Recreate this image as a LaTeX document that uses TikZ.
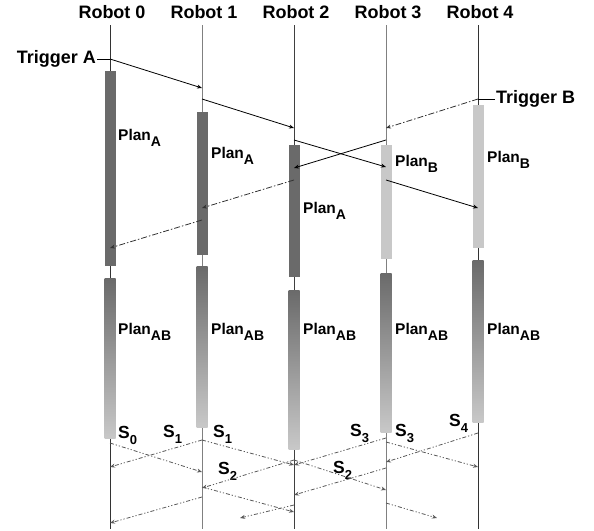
\documentclass[tikz,border=0pt]{standalone}
\usepackage{fontspec}
\setmainfont{Liberation Sans}
\usetikzlibrary{arrows.meta}

\definecolor{darkbar}{HTML}{6A6A6A}
\definecolor{lightbar}{HTML}{C8C8C8}
\newcommand\lsub[2]{\raisebox{-6pt}{\fontsize{#1}{#1}\selectfont #2}}

\begin{document}
\begin{tikzpicture}[x=1pt,y=-1pt,
    lifeline/.style={line width=0.8pt},
    solidmsg/.style={draw,thick,black},
    bmsg/.style={draw,thick,black!80,dash pattern=on 6pt off 2pt on 1.5pt off 2pt},
    smsg/.style={draw,thick,black!65,dash pattern=on 4pt off 2pt on 1.2pt off 2pt on 1.2pt off 2pt}]
\useasboundingbox (0,0) rectangle (594,530);

\begin{scope}[every node/.style={font=\fontsize{18}{18}\selectfont\bfseries}]
    \node (r0) at (112,12) {Robot 0};
    \node (r1) at (204,12) {Robot 1};
    \node (r2) at (296,12) {Robot 2};
    \node (r3) at (388,12) {Robot 3};
    \node (r4) at (480,12) {Robot 4};
    \node[anchor=east,inner sep=1pt] (tA) at (97,59) {Trigger A};
    \node[anchor=west,inner sep=1pt] (tB) at (495,99) {Trigger B};
\end{scope}

% lifelines
\foreach \n/\x/\c in {0/110/black!80,1/202/black!50,2/294/black!75,3/386/black!50,4/478/black!80}{
    \coordinate (t\n) at (\x,25);
    \coordinate (e\n) at (\x,529);
    \draw[lifeline,\c] (t\n) -- (e\n);
}

% plans
\foreach \x/\t/\b in {110/71/266, 202/112/255, 294/145/277}
    \fill[darkbar] (\x-5.5,\t) rectangle (\x+5.5,\b);
\foreach \x/\t/\b in {386/145/259, 478/105/248}
    \fill[lightbar] (\x-5.5,\t) rectangle (\x+5.5,\b);
\foreach \x/\t/\b in {110/278/438, 202/266/427, 294/290/449, 386/273/432, 478/260/422}
    \shade[top color=darkbar,bottom color=lightbar] (\x-5.5,\t) rectangle (\x+5.5,\b);

\begin{scope}[every node/.style={anchor=base west,inner sep=0pt,
                                 font=\fontsize{15.5}{15.5}\selectfont\bfseries}]
    \node (pa0) at (118,140) {Plan\lsub{14}{A}};
    \node (pa1) at (211,158) {Plan\lsub{14}{A}};
    \node (pa2) at (303,213) {Plan\lsub{14}{A}};
    \node (pb3) at (395,166) {Plan\lsub{14}{B}};
    \node (pb4) at (487,162) {Plan\lsub{14}{B}};
    \foreach \n/\x in {0/118,1/211,2/303,3/395,4/487}
        \node (pab\n) at (\x,334) {Plan\lsub{14}{AB}};
\end{scope}

\begin{scope}[every node/.style={anchor=base west,inner sep=0pt,
                                 font=\fontsize{17.5}{17.5}\selectfont\bfseries}]
    \node (s0)  at (118,438) {S\lsub{13}{0}};
    \node (s1a) at (163,437) {S\lsub{13}{1}};
    \node (s1b) at (213,437) {S\lsub{13}{1}};
    \node (s2a) at (218,474) {S\lsub{13}{2}};
    \node (s2b) at (333,473) {S\lsub{13}{2}};
    \node (s3a) at (350,436) {S\lsub{13}{3}};
    \node (s3b) at (395,436) {S\lsub{13}{3}};
    \node (s4)  at (449,426) {S\lsub{13}{4}};
\end{scope}

% message ends
\foreach \n/\x/\y in {a1s/110/59, a1e/202/88, a2s/202/99, a2e/294/128,
                      a3s/294/140, a3e/386/167, a4s/386/180, a4e/478/208,
                      b1s/478/99, b1e/386/128, b2s/386/140, b2e/294/168,
                      b3s/294/180, b3e/202/208, b4s/202/220, b4e/110/248,
                      c0s/110/443, c0e/202/472, c1s/202/440, c1l/110/467, c1r/294/465,
                      c2s/294/460, c2l/202/488, c2r/386/490,
                      c3s/386/438, c3l/294/465, c3t/386/442, c3r/478/467,
                      c4s/478/433, c4e/386/462,
                      d1s/202/497, d1e/110/523, d2s/202/487, d2e/294/512,
                      d3s/294/505, d3e/240/518, d4s/386/468, d4e/294/495,
                      d5s/386/503, d5e/437/518}
    \coordinate (\n) at (\x,\y);

\draw[thick] (tA) -- (a1s);
\draw[thick] (b1s) -- (tB);

\begin{scope}[>={Stealth[length=5pt,width=4pt]}]
    \path [->] (a1s) edge[solidmsg] (a1e);
    \path [->] (a2s) edge[solidmsg] (a2e);
    \path [->] (a3s) edge[solidmsg] (a3e);
    \path [->] (a4s) edge[solidmsg] (a4e);
    \path [->] (b2s) edge[solidmsg] (b2e);

    \path [->] (b1s) edge[bmsg] (b1e);
    \path [->] (b3s) edge[bmsg] (b3e);
    \path [->] (b4s) edge[bmsg] (b4e);

    \path [->] (c0s) edge[smsg] (c0e);
    \path [->] (c1s) edge[smsg] (c1l);
    \path [->] (c1s) edge[smsg] (c1r);
    \path [->] (c2s) edge[smsg] (c2l);
    \path [->] (c2s) edge[smsg] (c2r);
    \path [->] (c3s) edge[smsg] (c3l);
    \path [->] (c3t) edge[smsg] (c3r);
    \path [->] (c4s) edge[smsg] (c4e);
    \path [->] (d1s) edge[smsg] (d1e);
    \path [->] (d2s) edge[smsg] (d2e);
    \path [->] (d3s) edge[smsg] (d3e);
    \path [->] (d4s) edge[smsg] (d4e);
    \path [->] (d5s) edge[smsg] (d5e);
\end{scope}
\end{tikzpicture}
\end{document}
